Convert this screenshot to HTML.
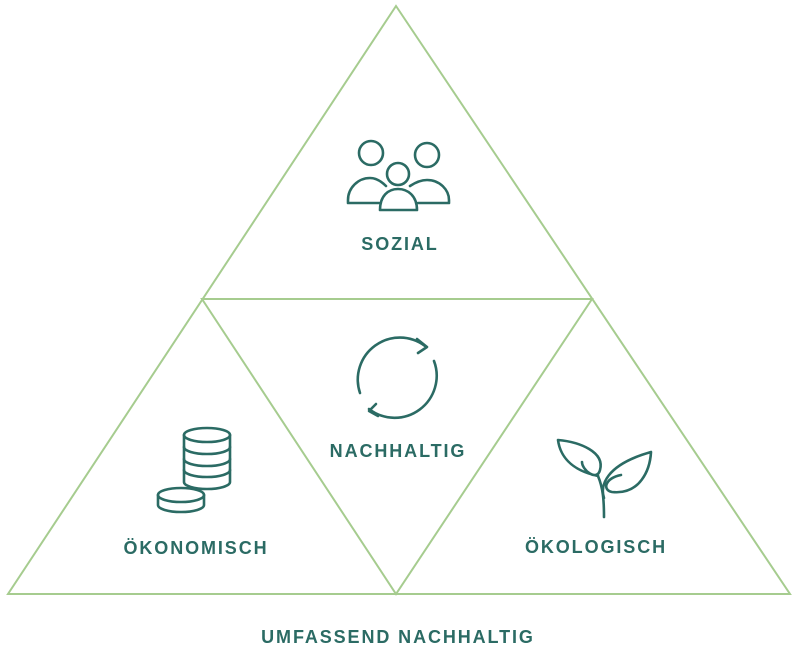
<!DOCTYPE html>
<html><head><meta charset="utf-8"><style>
html,body{margin:0;padding:0;background:#fff;}
svg{display:block}
text{font-family:"Liberation Sans",sans-serif;font-weight:bold;font-size:18px;fill:#2b6b64;letter-spacing:1.9px;text-anchor:middle}
</style></head><body>
<svg width="800" height="655" viewBox="0 0 800 655">
<g fill="none" stroke="#a6cc8f" stroke-width="2">
<polygon points="396,6 8,594 790,594"/>
<polygon points="202,299 592,299 396,594"/>
</g>
<g fill="none" stroke="#2b6b64" stroke-width="2.6" stroke-linecap="round" stroke-linejoin="round">
<circle cx="371" cy="153" r="12"/>
<circle cx="427" cy="155" r="12"/>
<circle cx="398" cy="174" r="11"/>
<path d="M386,186 C380,180 374,178 370,178 C358,178 348,188 348,200 L348,203 L379,203"/>
<path d="M410,186 C416,182 421,180 427,180 C440,180 449,190 449,200 L449,203 L418,203"/>
<path d="M380,210 C380,196 388,189 398,189 C408,189 417,196 417,210 Z"/>
<path d="M425,346 A42,42 0 0 0 360,393"/>
<path d="M369,409 A42,42 0 0 0 434,361"/>
<path d="M417,339 L427,347 L418,353"/>
<path d="M376,404 L369,411 L378,416"/>
<ellipse cx="207" cy="435" rx="23" ry="7"/>
<path d="M184,435 V482 A23,7 0 0 0 230,482 V435"/>
<path d="M184,447 A23,7 0 0 0 230,447 M184,459 A23,7 0 0 0 230,459 M184,470 A23,7 0 0 0 230,470"/>
<ellipse cx="181" cy="495" rx="23" ry="7"/>
<path d="M158,495 V505 A23,7 0 0 0 204,505 V495"/>
<path d="M604,517 C604,500 603,488 598,476"/>
<path d="M598,476 C570,470 560,455 558,440 C580,442 605,452 600,470 C597,482 582,470 582,462"/>
<path d="M604,498 C600,486 605,465 651,452 C650,470 640,495 612,492 C602,490 605,478 621,475"/>
</g>
<text x="400" y="250">SOZIAL</text>
<text x="398" y="457">NACHHALTIG</text>
<text x="196" y="554">ÖKONOMISCH</text>
<text x="596" y="553">ÖKOLOGISCH</text>
<text x="398" y="643">UMFASSEND NACHHALTIG</text>
</svg>
</body></html>
